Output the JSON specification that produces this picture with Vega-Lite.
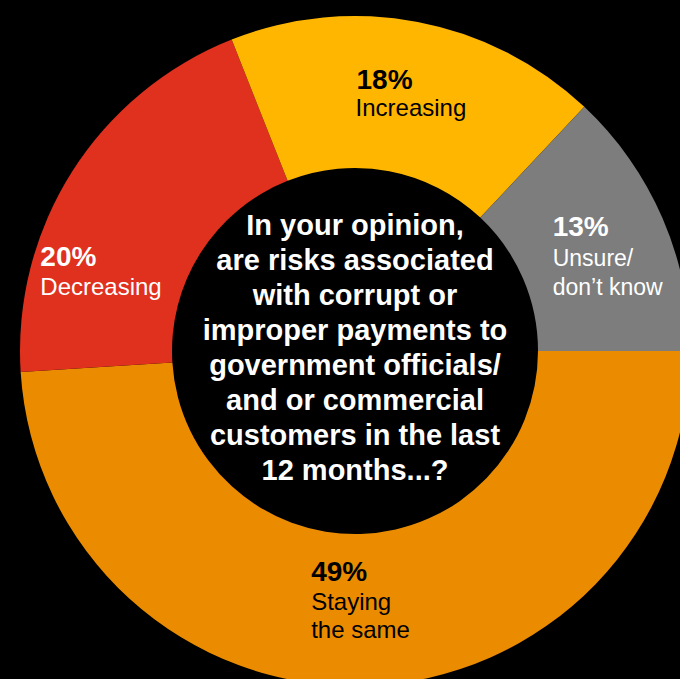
{
  "$schema": "https://vega.github.io/schema/vega-lite/v6.json",
  "width": 650,
  "height": 640,
  "autosize": "none",
  "padding": {"left": 30, "top": 31, "right": 0, "bottom": 8},
  "background": "black",
  "data": {
    "values": [
      {"answer": "Staying the same", "value": 49, "pct": "49%", "lines": ["Staying", "the same"]},
      {"answer": "Decreasing", "value": 20, "pct": "20%", "lines": ["Decreasing"]},
      {"answer": "Increasing", "value": 18, "pct": "18%", "lines": ["Increasing"]},
      {"answer": "Unsure/don’t know", "value": 13, "pct": "13%", "lines": ["Unsure/", "don’t know"]}
    ]
  },
  "layer": [
    {
      "mark": {"type": "arc", "radius": 335, "radius2": 183},
      "encoding": {
        "theta": {"field": "value", "type": "quantitative", "stack": true, "scale": {"range": [1.5708, 7.854]}},
        "order": {"field": "value", "sort": "descending"},
        "color": {
          "field": "answer",
          "type": "nominal",
          "scale": {
            "domain": ["Staying the same", "Decreasing", "Increasing", "Unsure/don’t know"],
            "range": ["#EB8C00", "#E0301E", "#FFB600", "#7D7D7D"]
          },
          "legend": null
        }
      }
    },
    {
      "mark": {"type": "text", "radius": 259, "align": "left", "baseline": "alphabetic", "font": "Liberation Sans", "fontSize": 28, "fontWeight": "bold", "color": "black", "dx": -47, "dy": -8},
      "encoding": {
        "theta": {"field": "value", "type": "quantitative", "stack": true},
        "order": {"field": "value", "sort": "descending"},
        "text": {"condition": {"test": "datum.answer === 'Increasing'", "field": "pct"}, "value": ""}
      }
    },
    {
      "mark": {"type": "text", "radius": 259, "align": "left", "baseline": "alphabetic", "font": "Liberation Sans", "fontSize": 24, "color": "black", "dx": -48, "dy": 19},
      "encoding": {
        "theta": {"field": "value", "type": "quantitative", "stack": true},
        "order": {"field": "value", "sort": "descending"},
        "text": {"condition": {"test": "datum.answer === 'Increasing'", "field": "lines"}, "value": ""}
      }
    },
    {
      "mark": {"type": "text", "radius": 259, "align": "left", "baseline": "alphabetic", "font": "Liberation Sans", "fontSize": 28, "fontWeight": "bold", "color": "white", "dx": -40, "dy": -12},
      "encoding": {
        "theta": {"field": "value", "type": "quantitative", "stack": true},
        "order": {"field": "value", "sort": "descending"},
        "text": {"condition": {"test": "datum.answer === 'Unsure/don’t know'", "field": "pct"}, "value": ""}
      }
    },
    {
      "mark": {"type": "text", "radius": 259, "align": "left", "baseline": "alphabetic", "font": "Liberation Sans", "fontSize": 23, "lineHeight": 29, "color": "white", "dx": -40, "dy": 18},
      "encoding": {
        "theta": {"field": "value", "type": "quantitative", "stack": true},
        "order": {"field": "value", "sort": "descending"},
        "text": {"condition": {"test": "datum.answer === 'Unsure/don’t know'", "field": "lines"}, "value": ""}
      }
    },
    {
      "mark": {"type": "text", "radius": 259, "align": "left", "baseline": "alphabetic", "font": "Liberation Sans", "fontSize": 28, "fontWeight": "bold", "color": "black", "dx": -52, "dy": -29},
      "encoding": {
        "theta": {"field": "value", "type": "quantitative", "stack": true},
        "order": {"field": "value", "sort": "descending"},
        "text": {"condition": {"test": "datum.answer === 'Staying the same'", "field": "pct"}, "value": ""}
      }
    },
    {
      "mark": {"type": "text", "radius": 259, "align": "left", "baseline": "alphabetic", "font": "Liberation Sans", "fontSize": 24, "lineHeight": 28, "color": "black", "dx": -52, "dy": 0},
      "encoding": {
        "theta": {"field": "value", "type": "quantitative", "stack": true},
        "order": {"field": "value", "sort": "descending"},
        "text": {"condition": {"test": "datum.answer === 'Staying the same'", "field": "lines"}, "value": ""}
      }
    },
    {
      "mark": {"type": "text", "radius": 259, "align": "left", "baseline": "alphabetic", "font": "Liberation Sans", "fontSize": 28, "fontWeight": "bold", "color": "white", "dx": -96, "dy": 54},
      "encoding": {
        "theta": {"field": "value", "type": "quantitative", "stack": true},
        "order": {"field": "value", "sort": "descending"},
        "text": {"condition": {"test": "datum.answer === 'Decreasing'", "field": "pct"}, "value": ""}
      }
    },
    {
      "mark": {"type": "text", "radius": 259, "align": "left", "baseline": "alphabetic", "font": "Liberation Sans", "fontSize": 24, "color": "white", "dx": -96, "dy": 83},
      "encoding": {
        "theta": {"field": "value", "type": "quantitative", "stack": true},
        "order": {"field": "value", "sort": "descending"},
        "text": {"condition": {"test": "datum.answer === 'Decreasing'", "field": "lines"}, "value": ""}
      }
    },
    {
      "data": {
        "values": [
          {"question": ["In your opinion,", "are risks associated", "with corrupt or", "improper payments to", "government officials/", "and or commercial", "customers in the last", "12 months...?"]}
        ]
      },
      "mark": {"type": "text", "align": "center", "baseline": "middle", "font": "Liberation Sans", "fontSize": 29, "fontWeight": "bold", "lineHeight": 35, "color": "white", "dy": -125},
      "encoding": {
        "text": {"field": "question"}
      }
    }
  ],
  "config": {
    "view": {"stroke": null}
  }
}
